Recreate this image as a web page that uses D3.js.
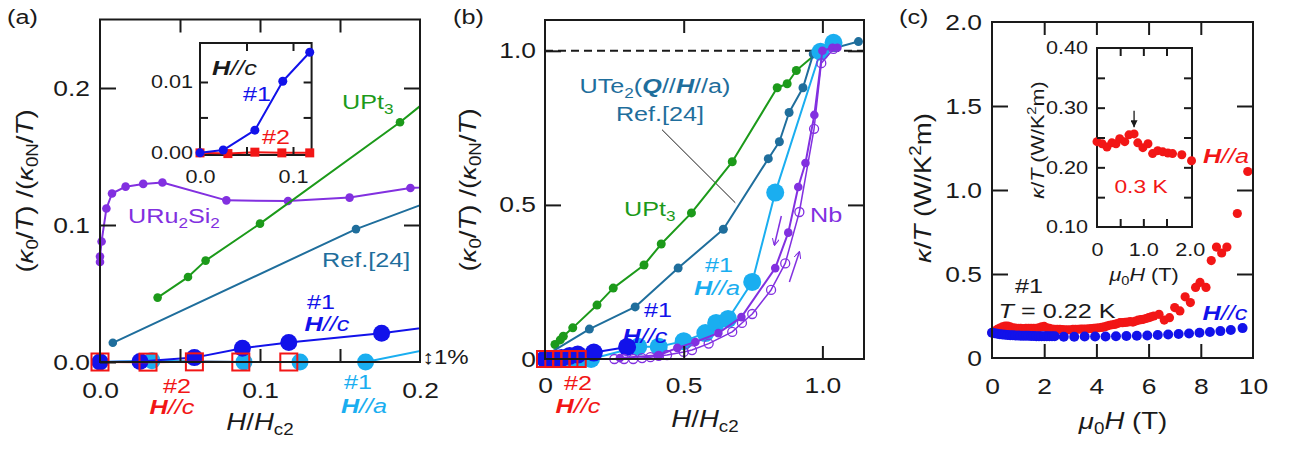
<!DOCTYPE html>
<html>
<head>
<meta charset="utf-8">
<script src="https://cdn.jsdelivr.net/npm/d3@7"></script>
<style>
body { margin: 0; background: #fff; }
svg { font-family: "Liberation Sans", Arial, Helvetica, sans-serif; }
</style>
</head>
<body>
<script>
//colours
var ink = "#1a1a1a",
	cPurple = "#8230e0",
	cGreen = "#1c9a1a",
	cTeal = "#1f6e9c",
	cBlue = "#1212ea",
	cLight = "#1aaef0",
	cRed = "#f21616";

var SX = 1.2; //horizontal stretch of the lettering

//////////////
// data : (kappa0/T)/(kappa0N/T) vs H/Hc2, shared by panels (a) and (b)
//////////////
var upt3 = [[0.036,0.047],[0.055,0.062],[0.066,0.074],[0.100,0.101],[0.1875,0.175],[0.246,0.23],[0.357,0.305],[0.419,0.373],[0.528,0.474],[0.675,0.64],[0.837,0.88],[0.873,0.893],[0.906,0.936],[0.99,1.0]];
var ref24 = [[0.008,0.014],[0.16,0.097],[0.325,0.169],[0.48,0.295],[0.643,0.421],[0.805,0.65],[0.845,0.705],[0.88,0.80],[0.93,0.88],[0.967,0.99],[1.13,1.03]];
var uru2si2 = [[0,0.073],[0,0.077],[0.001,0.088],[0.004,0.112],[0.0075,0.123],[0.016,0.128],[0.027,0.130],[0.039,0.131],[0.079,0.118],[0.1175,0.1175],[0.156,0.120],[0.194,0.127],[0.22,0.129]];
var hc1 = [[0,0],[0.025,0.0004],[0.059,0.0032],[0.089,0.0101],[0.118,0.0142],[0.176,0.021],[0.296,0.039]];
var hc2 = [[0,0],[0.03,-0.0001],[0.059,0.0001],[0.088,0],[0.118,0]];
var ha1 = [[0,0],[0.0325,0.001],[0.09,0],[0.125,0],[0.166,0],[0.336,0.04],[0.41,0.04],[0.50,0.058],[0.578,0.084],[0.617,0.117],[0.66,0.13],[0.747,0.25],[0.83,0.54],[0.993,0.997],[1.04,1.026]];
var nbDown = [[0.27,0.003],[0.41,0.012],[0.477,0.036],[0.542,0.055],[0.625,0.084],[0.708,0.136],[0.83,0.295],[0.877,0.41],[0.913,0.558],[0.939,0.636],[0.971,0.792],[1.0,1.0],[1.036,1.01],[1.054,1.01]];
var nbUp = [[0.25,0],[0.285,0],[0.318,0],[0.35,0.003],[0.38,0.006],[0.41,0.01],[0.44,0.013],[0.50,0.023],[0.53,0.029],[0.59,0.05],[0.675,0.088],[0.71,0.117],[0.747,0.146],[0.815,0.224],[0.866,0.31],[0.917,0.477],[0.97,0.747],[0.996,0.96],[1.04,1.006]];

//////////////
// data : kappa/T vs mu0H, panel (c)
//////////////
var redC = [[0,0.15],[0.1,0.16],[0.2,0.17],[0.3,0.178],[0.4,0.185],[0.5,0.19],[0.6,0.19],[0.7,0.185],[0.8,0.18],[0.9,0.178],[1.0,0.177],[1.1,0.176],[1.2,0.175],[1.3,0.176],[1.4,0.177],[1.5,0.176],[1.6,0.176],[1.7,0.177],[1.8,0.18],[1.9,0.186],[2.0,0.188],[2.1,0.18],[2.2,0.176],[2.3,0.172],[2.4,0.17],[2.5,0.17],[2.6,0.17],[2.7,0.169],[2.8,0.168],[2.9,0.168],[3.0,0.168],[3.1,0.17],[3.2,0.17],[3.3,0.171],[3.4,0.172],[3.5,0.172],[3.6,0.172],[3.7,0.174],[3.8,0.175],[3.9,0.176],[4.0,0.178],[4.1,0.18],[4.2,0.182],[4.3,0.185],[4.4,0.19],[4.5,0.195],[4.6,0.198],[4.7,0.2],[4.8,0.205],[4.9,0.21],[5.0,0.21],[5.1,0.212],[5.2,0.214],[5.3,0.216],[5.4,0.214],[5.5,0.22],[5.6,0.225],[5.7,0.228],[5.8,0.23],[5.9,0.235],[6.0,0.24],[6.1,0.245],[6.2,0.25],[6.4,0.26],[6.6,0.226],[6.8,0.24],[7.0,0.3],[7.2,0.28],[7.4,0.364],[7.6,0.33],[7.8,0.42],[7.97,0.45],[8.2,0.42],[8.4,0.58],[8.6,0.66],[8.8,0.625],[9.0,0.66],[9.4,0.86],[9.8,1.11]];
var blueC = [[0,0.15],[0.1,0.147],[0.2,0.144],[0.3,0.142],[0.4,0.14],[0.5,0.138],[0.6,0.137],[0.7,0.136],[0.8,0.135],[0.9,0.134],[1.0,0.134],[1.1,0.133],[1.2,0.133],[1.3,0.132],[1.4,0.132],[1.5,0.131],[1.6,0.131],[1.7,0.13],[1.8,0.13],[1.9,0.13],[2.0,0.13],[2.1,0.129],[2.2,0.129],[2.3,0.129],[2.4,0.129],[2.75,0.127],[3.15,0.127],[3.55,0.128],[3.95,0.128],[4.35,0.128],[4.75,0.129],[5.15,0.131],[5.55,0.132],[5.95,0.134],[6.35,0.137],[6.75,0.14],[7.15,0.143],[7.55,0.146],[7.95,0.15],[8.35,0.155],[8.75,0.16],[9.15,0.167],[9.6,0.178]];
var redIn = [[0,0.243],[0.11,0.2395],[0.215,0.234],[0.32,0.241],[0.41,0.2395],[0.49,0.248],[0.6,0.243],[0.69,0.2545],[0.8,0.256],[0.88,0.241],[0.99,0.233],[1.1,0.2395],[1.2,0.223],[1.31,0.228],[1.42,0.226],[1.53,0.224],[1.63,0.223],[1.83,0.221],[2.04,0.211]];

//tick values
var ticksA = {labX:[0,0.1,0.2], labY:[0,0.1,0.2], x:[0.05,0.1,0.15], y:[0.1,0.2]};
var ticksAin = {labX:[0,0.1], labY:[0,0.01], x:[0.05,0.1], y:[0.005,0.01]};
var ticksB = {lab:[0,0.5,1.0], x:[0.5,1.0], y:[0.5,1.0]};
var ticksC = {labX:[0,2,4,6,8,10], labY:[0,0.5,1.0,1.5,2.0], x:[2,4,6,8], y:[0.5,1.0,1.5]};
var ticksCin = {labX:[0,1,2], labY:[0.1,0.2,0.3,0.4], x:[0.5,1.0,1.5], y:[0.15,0.2,0.25,0.3,0.35]};

var svg = d3.select("body").append("svg")
	.attr("width", 1292)
	.attr("height", 450);

var defs = svg.append("defs");
defs.append("marker")
	.attr("id", "headP").attr("viewBox", "0 0 10 10")
	.attr("refX", 9).attr("refY", 5)
	.attr("markerWidth", 7).attr("markerHeight", 7)
	.attr("markerUnits", "userSpaceOnUse")
	.attr("orient", "auto")
	.append("path").attr("d", "M0,0L10,5L0,10").attr("fill", "none").attr("stroke", cPurple).attr("stroke-width", 1.5);
defs.append("marker")
	.attr("id", "headK").attr("viewBox", "0 0 10 10")
	.attr("refX", 10).attr("refY", 5)
	.attr("markerWidth", 7).attr("markerHeight", 7)
	.attr("markerUnits", "userSpaceOnUse")
	.attr("orient", "auto")
	.append("path").attr("d", "M0,0L10,5L0,10Z").attr("fill", ink);

//////////////
// helpers
//////////////
function clip(id, x0, y0, x1, y1){
	defs.append("clipPath").attr("id", id)
		.append("rect").attr("x", x0).attr("y", y0).attr("width", x1 - x0).attr("height", y1 - y0);
}

//rich text : parts are strings or [text, style] with style i, bi, sub, sup
function label(g, x, y, parts, o){
	o = o || {};
	var size = o.size || 21, shift = 0;
	var t = g.append("text")
		.attr("transform", "translate(" + x + "," + y + ")" + (o.rot ? " rotate(-90)" : "") + " scale(" + (o.sx || SX) + ",1)")
		.attr("text-anchor", o.anchor || "start")
		.attr("fill", o.color || ink)
		.style("font-size", size + "px");
	parts.forEach(function(p){
		if (typeof p === "string") p = [p, ""];
		var s = p[1],
			target = s === "sub" ? 0.22*size : (s === "sup" ? -0.42*size : 0);
		var ts = t.append("tspan").text(p[0]);
		if (target !== shift) { ts.attr("dy", target - shift); shift = target; }
		if (s === "sub" || s === "sup") ts.style("font-size", (0.68*size) + "px");
		if (s === "i" || s === "bi") ts.style("font-style", "italic");
		if (s === "bi") ts.style("font-weight", "bold");
	});
	return t;
}

function axis(g, type, scale, pos, values, size, fmt, pad, fs){
	var gen = {left:d3.axisLeft, right:d3.axisRight, top:d3.axisTop, bottom:d3.axisBottom}[type];
	var a = gen(scale).tickValues(values).tickSize(size).tickPadding(pad || 0)
		.tickFormat(fmt || function(){ return ""; });
	var tr = (type === "left" || type === "right") ? "translate(" + pos + ",0)" : "translate(0," + pos + ")";
	var ax = g.append("g").attr("transform", tr).call(a);
	ax.attr("font-family", null).attr("font-size", null);
	ax.select(".domain").remove();
	ax.selectAll(".tick line").attr("stroke", ink).attr("stroke-width", 2);
	ax.selectAll(".tick text").each(function(){
		var t = d3.select(this), x = +t.attr("x") || 0, y = +t.attr("y") || 0;
		t.attr("x", null).attr("y", null)
			.attr("transform", "translate(" + x + "," + y + ") scale(" + SX + ",1)");
	}).attr("fill", ink).style("font-size", (fs || 22) + "px");
	return ax;
}

function frame(g, x, y, fill){
	var r = x.range(), s = y.range();
	g.append("rect")
		.attr("x", r[0]).attr("y", s[1])
		.attr("width", r[1] - r[0]).attr("height", s[0] - s[1])
		.attr("fill", fill || "none").attr("stroke", ink).attr("stroke-width", 2);
}

function drawLine(g, data, x, y, color, w, clipId){
	g.append("path").datum(data)
		.attr("fill", "none").attr("stroke", color).attr("stroke-width", w || 2)
		.attr("stroke-linejoin", "round")
		.attr("clip-path", clipId ? "url(#" + clipId + ")" : null)
		.attr("d", d3.line().x(function(d){ return x(d[0]); }).y(function(d){ return y(d[1]); }));
}

function inDomain(x){
	var m = x.domain()[1];
	return function(d){ return d[0] <= m + 1e-9; };
}

function drawDots(g, data, x, y, r, color, open){
	g.append("g").selectAll("circle")
		.data(data.filter(inDomain(x))).join("circle")
			.attr("cx", function(d){ return x(d[0]); })
			.attr("cy", function(d){ return y(d[1]); })
			.attr("r", r)
			.attr("fill", open ? "none" : color)
			.attr("stroke", open ? color : "none")
			.attr("stroke-width", open ? 1.3 : 0);
}

function drawSquares(g, data, x, y, s, color, open){
	g.append("g").selectAll("rect")
		.data(data.filter(inDomain(x))).join("rect")
			.attr("x", function(d){ return x(d[0]) - s/2; })
			.attr("y", function(d){ return y(d[1]) - s/2; })
			.attr("width", s).attr("height", s)
			.attr("fill", open ? "none" : color)
			.attr("stroke", open ? color : "none")
			.attr("stroke-width", open ? 2 : 0);
}

var f1 = d3.format(".1f"),
	f2 = d3.format(".2f"),
	fz = function(d){ return d === 0 ? "0" : f1(d); };

//////////////
// panel (a)
//////////////
var gA = svg.append("g");
var xA = d3.scaleLinear().domain([0, 0.2]).range([100, 420]),
	yA = d3.scaleLinear().domain([0, 0.25]).range([362, 19.5]);
clip("clipA", 100, 19.5, 420, 366);

drawLine(gA, uru2si2, xA, yA, cPurple, 2, "clipA");
drawDots(gA, uru2si2, xA, yA, 4.3, cPurple);
drawLine(gA, upt3, xA, yA, cGreen, 2, "clipA");
drawDots(gA, upt3, xA, yA, 4.3, cGreen);
drawLine(gA, ref24, xA, yA, cTeal, 2, "clipA");
drawDots(gA, ref24, xA, yA, 4.3, cTeal);
drawLine(gA, ha1, xA, yA, cLight, 2, "clipA");
drawDots(gA, ha1, xA, yA, 8.5, cLight);
drawLine(gA, hc1, xA, yA, cBlue, 2, "clipA");
drawDots(gA, hc1, xA, yA, 8.5, cBlue);
drawLine(gA, hc2, xA, yA, cRed, 2, "clipA");
drawSquares(gA, hc2, xA, yA, 17, cRed, true);

frame(gA, xA, yA);
axis(gA, "left", yA, 100, ticksA.labY, -16, f1, 10);
axis(gA, "right", yA, 420, ticksA.y, -16);
axis(gA, "top", xA, 19.5, ticksA.x, -13);
axis(gA, "bottom", xA, 362, ticksA.x, -13);
axis(gA, "bottom", xA, 362, ticksA.labX, 0, f1, 20);

//inset of (a)
var xAi = d3.scaleLinear().domain([0, 0.12]).range([200, 311.6]),
	yAi = d3.scaleLinear().domain([-0.0003, 0.0155]).range([155, 43]);
clip("clipAi", 200, 43, 311.6, 155);
frame(gA, xAi, yAi, "#fff");
drawLine(gA, hc2, xAi, yAi, cRed, 2, "clipAi");
drawSquares(gA, hc2, xAi, yAi, 9, cRed);
drawLine(gA, hc1, xAi, yAi, cBlue, 2, "clipAi");
drawDots(gA, hc1, xAi, yAi, 4.5, cBlue);
axis(gA, "left", yAi, 200, ticksAin.y, -8);
axis(gA, "right", yAi, 311.6, ticksAin.y, -8);
axis(gA, "top", xAi, 43, ticksAin.x, -8);
axis(gA, "bottom", xAi, 155, ticksAin.x, -8);
axis(gA, "left", yAi, 200, ticksAin.labY, 0, f2, 7, 18);
axis(gA, "bottom", xAi, 155, ticksAin.labX, 0, f1, 15, 18);

label(gA, 212, 75, [["H","bi"], ["//c","i"]], {size:21});
label(gA, 243, 101, ["#1"], {color:cBlue});
label(gA, 262, 144, ["#2"], {color:cRed});

//labels of (a)
label(gA, 7, 24, ["(a)"], {size:21});
label(gA, 33, 191, ["(", ["κ","i"], ["0","sub"], "/", ["T","i"], ") /(", ["κ","i"], ["0N","sub"], "/", ["T","i"], ")"], {rot:true, anchor:"middle", size:23});
label(gA, 260, 430, [["H","i"], "/", ["H","i"], ["c2","sub"]], {anchor:"middle", size:23});
label(gA, 342, 109, ["UPt", ["3","sub"]], {color:cGreen});
label(gA, 128, 223, ["URu", ["2","sub"], "Si", ["2","sub"]], {color:cPurple});
label(gA, 322, 267, ["Ref.[24]"], {color:cTeal});
label(gA, 321, 309, ["#1"], {color:cBlue, anchor:"middle"});
label(gA, 327, 331, [["H","bi"], ["//c","i"]], {color:cBlue, anchor:"middle"});
label(gA, 177, 393, ["#2"], {color:cRed, anchor:"middle"});
label(gA, 172, 414, [["H","bi"], ["//c","i"]], {color:cRed, anchor:"middle"});
label(gA, 358, 389, ["#1"], {color:cLight, anchor:"middle"});
label(gA, 364, 413, [["H","bi"], ["//a","i"]], {color:cLight, anchor:"middle"});
label(gA, 422, 364, ["↕1%"], {size:20});

//////////////
// panel (b)
//////////////
var gB = svg.append("g");
var xB = d3.scaleLinear().domain([0, 1.15]).range([545, 864]),
	yB = d3.scaleLinear().domain([0, 1.1]).range([359, 20]);
clip("clipB", 545, 20, 864, 363);

gB.append("line")
	.attr("x1", xB(0)).attr("x2", xB(1.15))
	.attr("y1", yB(1)).attr("y2", yB(1))
	.attr("stroke", ink).attr("stroke-width", 2).attr("stroke-dasharray", "8,5");

//leader line from the Ref.[24] label
gB.append("line")
	.attr("x1", xB(0.422)).attr("y1", yB(0.744))
	.attr("x2", xB(0.686)).attr("y2", yB(0.507))
	.attr("stroke", ink).attr("stroke-width", 1);

drawLine(gB, upt3, xB, yB, cGreen, 2, "clipB");
drawDots(gB, upt3, xB, yB, 4.5, cGreen);
drawLine(gB, ref24, xB, yB, cTeal, 2, "clipB");
drawDots(gB, ref24, xB, yB, 4.5, cTeal);
drawLine(gB, ha1, xB, yB, cLight, 2, "clipB");
drawDots(gB, ha1, xB, yB, 9, cLight);
drawLine(gB, hc1, xB, yB, cBlue, 2, "clipB");
drawDots(gB, hc1, xB, yB, 9, cBlue);
drawLine(gB, nbDown, xB, yB, cPurple, 2, "clipB");
drawDots(gB, nbDown, xB, yB, 4.3, cPurple);
drawLine(gB, nbUp, xB, yB, cPurple, 1.5, "clipB");
drawDots(gB, nbUp, xB, yB, 4.5, cPurple, true);
drawLine(gB, hc2, xB, yB, cRed, 2, "clipB");
drawSquares(gB, hc2, xB, yB, 16, cRed, true);

//sweep direction arrows of Nb
gB.append("line")
	.attr("x1", xB(0.852)).attr("y1", yB(0.464))
	.attr("x2", xB(0.827)).attr("y2", yB(0.37))
	.attr("stroke", cPurple).attr("stroke-width", 1.5).attr("marker-end", "url(#headP)");
gB.append("line")
	.attr("x1", xB(0.881)).attr("y1", yB(0.25))
	.attr("x2", xB(0.917)).attr("y2", yB(0.347))
	.attr("stroke", cPurple).attr("stroke-width", 1.5).attr("marker-end", "url(#headP)");

frame(gB, xB, yB);
axis(gB, "left", yB, 545, ticksB.y, -16);
axis(gB, "right", yB, 864, ticksB.y, -16);
axis(gB, "top", xB, 20, ticksB.x, -13);
axis(gB, "bottom", xB, 359, ticksB.x, -13);
axis(gB, "left", yB, 545, ticksB.lab, 0, fz, 9);
axis(gB, "bottom", xB, 359, ticksB.lab, 0, fz, 18);

label(gB, 453, 24, ["(b)"], {size:21});
label(gB, 476, 190, ["(", ["κ","i"], ["0","sub"], "/", ["T","i"], ") /(", ["κ","i"], ["0N","sub"], "/", ["T","i"], ")"], {rot:true, anchor:"middle", size:23});
label(gB, 705, 427, [["H","i"], "/", ["H","i"], ["c2","sub"]], {anchor:"middle", size:23});
label(gB, 655, 93, ["UTe", ["2","sub"], "(", ["Q","bi"], "//", ["H","bi"], "//a)"], {color:cTeal, anchor:"middle"});
label(gB, 660, 121, ["Ref.[24]"], {color:cTeal, anchor:"middle"});
label(gB, 624, 216, ["UPt", ["3","sub"]], {color:cGreen});
label(gB, 810, 222, ["Nb"], {color:cPurple});
label(gB, 658, 317, ["#1"], {color:cBlue, anchor:"middle"});
label(gB, 645, 343, [["H","bi"], ["//c","i"]], {color:cBlue, anchor:"middle"});
label(gB, 719, 272, ["#1"], {color:cLight, anchor:"middle"});
label(gB, 717, 295, [["H","bi"], ["//a","i"]], {color:cLight, anchor:"middle"});
label(gB, 578, 390, ["#2"], {color:cRed, anchor:"middle"});
label(gB, 578, 413, [["H","bi"], ["//c","i"]], {color:cRed, anchor:"middle"});

//////////////
// panel (c)
//////////////
var gC = svg.append("g");
var xC = d3.scaleLinear().domain([0, 10]).range([992, 1253]),
	yC = d3.scaleLinear().domain([0, 2]).range([358, 22]);

drawDots(gC, redC, xC, yC, 4.6, cRed);
drawDots(gC, blueC, xC, yC, 5, cBlue);

frame(gC, xC, yC);
axis(gC, "left", yC, 992, ticksC.y, -16);
axis(gC, "right", yC, 1253, ticksC.y, -16);
axis(gC, "top", xC, 22, ticksC.x, -13);
axis(gC, "bottom", xC, 358, ticksC.x, -14);
axis(gC, "left", yC, 992, ticksC.labY, 0, fz, 10);
axis(gC, "bottom", xC, 358, ticksC.labX, 0, d3.format("d"), 20);

//inset of (c)
var xCi = d3.scaleLinear().domain([0, 2.05]).range([1097, 1192]),
	yCi = d3.scaleLinear().domain([0.1, 0.4]).range([227, 48]);
frame(gC, xCi, yCi, "#fff");
drawDots(gC, redIn, xCi, yCi, 4.5, cRed);
gC.append("line")
	.attr("x1", xCi(0.8)).attr("y1", yCi(0.295))
	.attr("x2", xCi(0.8)).attr("y2", yCi(0.267))
	.attr("stroke", ink).attr("stroke-width", 1.3).attr("marker-end", "url(#headK)");
axis(gC, "left", yCi, 1097, ticksCin.y, -8);
axis(gC, "right", yCi, 1192, ticksCin.y, -8);
axis(gC, "top", xCi, 48, ticksCin.x, -8);
axis(gC, "bottom", xCi, 227, ticksCin.x, -8);
axis(gC, "left", yCi, 1097, ticksCin.labY, 0, f2, 9, 18);
axis(gC, "bottom", xCi, 227, ticksCin.labX, 0, fz, 16, 18);
label(gC, 1141, 193, ["0.3 K"], {color:cRed, anchor:"middle", size:19});
label(gC, 1044, 140, [["κ","i"], "/", ["T","i"], " (W/K", ["2","sup"], "m)"], {rot:true, anchor:"middle", size:18});
label(gC, 1144, 281, [["μ","i"], ["0","sub"], ["H","i"], " (T)"], {anchor:"middle", size:18});

label(gC, 899, 24, ["(c)"], {size:21});
label(gC, 931, 188, [["κ","i"], "/", ["T","i"], " (W/K", ["2","sup"], "m)"], {rot:true, anchor:"middle", size:23});
label(gC, 1123, 429, [["μ","i"], ["0","sub"], ["H","i"], " (T)"], {anchor:"middle", size:23});
label(gC, 1226, 163, [["H","bi"], ["//a","i"]], {color:cRed, anchor:"middle"});
label(gC, 1225, 320, [["H","bi"], ["//c","i"]], {color:cBlue, anchor:"middle"});
label(gC, 1029, 293, ["#1"], {anchor:"middle"});
label(gC, 1057, 318, [["T","i"], " = 0.22 K"], {anchor:"middle"});
</script>
</body>
</html>
